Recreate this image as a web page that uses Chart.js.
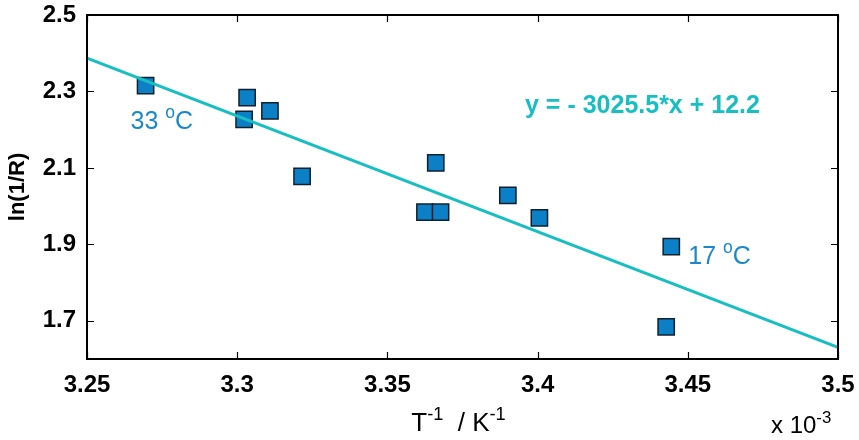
<!DOCTYPE html>
<html>
<head>
<meta charset="utf-8">
<script src="https://cdn.jsdelivr.net/npm/chart.js@4.4.0/dist/chart.umd.min.js"></script>
<style>
  html, body { margin: 0; padding: 0; background: #fff; }
  #wrap { width: 859px; height: 440px; }
</style>
</head>
<body>
<div id="wrap"><canvas id="arrhenius" width="859" height="440"></canvas></div>
<script>
// inverse temperature (x 10^-3 K^-1) and ln(1/R) for each measurement
const invTemp = [3.2695, 3.3033, 3.3023, 3.3109, 3.3216, 3.3661, 3.3625, 3.3677, 3.3901, 3.4006, 3.4445, 3.4428];
const lnInvR  = [2.315, 2.284, 2.227, 2.249, 2.078, 2.113, 1.984, 1.984, 2.028, 1.969, 1.894, 1.684];

// linear fit: y = slope * x + intercept (x in K^-1)
const fitSlope = -3025.5;
const fitIntercept = 12.22;
const fitRange = [3.25, 3.5];

const yTicks = [1.7, 1.9, 2.1, 2.3, 2.5];
const xTicks = [3.25, 3.3, 3.35, 3.4, 3.45, 3.5];

const tempLabels = [
  { idx: 0, text: '33', dx: -15, dy: 43 },
  { idx: 10, text: '17', dx: 17, dy: 17 }
];

const points = invTemp.map((x, i) => ({ x: x, y: lnInvR[i] }));
const fitLine = fitRange.map(x => ({ x: x, y: fitSlope * x * 1e-3 + fitIntercept }));

const BLUE = '#0b80c6';
const CYAN = '#17bfc3';
const LABEL_BLUE = '#1a88cc';
const FONT = '"Liberation Sans", Arial, sans-serif';

// text with a raised part, e.g. T^-1
function supText(ctx, parts, x, y, size, weight, color) {
  ctx.fillStyle = color;
  ctx.textBaseline = 'alphabetic';
  ctx.textAlign = 'left';
  let cx = x;
  parts.forEach(p => {
    const s = p.sup ? size * 0.7 : size;
    ctx.font = weight + ' ' + s + 'px ' + FONT;
    ctx.fillText(p.t, cx, p.sup ? y - size * 0.42 : y);
    cx += ctx.measureText(p.t).width;
  });
  return cx - x;
}
function measureSup(ctx, parts, size, weight) {
  let w = 0;
  parts.forEach(p => {
    const s = p.sup ? size * 0.7 : size;
    ctx.font = weight + ' ' + s + 'px ' + FONT;
    w += ctx.measureText(p.t).width;
  });
  return w;
}

const framePlugin = {
  id: 'frame',
  afterDatasetsDraw(chart) {
    const { ctx, chartArea: a, scales } = chart;
    ctx.save();
    // box with inward ticks on all four sides
    ctx.strokeStyle = '#000';
    ctx.lineWidth = 2;
    ctx.strokeRect(a.left, a.top, a.right - a.left, a.bottom - a.top);
    ctx.lineWidth = 1.2;
    const tl = 7;
    ctx.beginPath();
    xTicks.forEach(v => {
      const px = Math.round(scales.x.getPixelForValue(v)) + 0.5;
      ctx.moveTo(px, a.bottom); ctx.lineTo(px, a.bottom - tl);
      ctx.moveTo(px, a.top); ctx.lineTo(px, a.top + tl);
    });
    yTicks.forEach(v => {
      const py = Math.round(scales.y.getPixelForValue(v)) + 0.5;
      ctx.moveTo(a.left, py); ctx.lineTo(a.left + tl, py);
      ctx.moveTo(a.right, py); ctx.lineTo(a.right - tl, py);
    });
    ctx.stroke();

    // temperature labels next to the end points
    tempLabels.forEach(l => {
      const px = scales.x.getPixelForValue(invTemp[l.idx]) + l.dx;
      const py = scales.y.getPixelForValue(lnInvR[l.idx]) + l.dy;
      supText(ctx, [{ t: l.text + ' ' }, { t: 'o', sup: true }, { t: 'C' }], px, py, 25, 'normal', LABEL_BLUE);
    });

    // fit equation
    ctx.font = 'bold 25px ' + FONT;
    ctx.fillStyle = CYAN;
    ctx.textAlign = 'left';
    ctx.textBaseline = 'alphabetic';
    const eq = 'y = - ' + Math.abs(fitSlope).toFixed(1) + '*x + ' + fitIntercept.toFixed(1);
    ctx.fillText(eq, 525, 113);

    // axis titles
    const xt = [{ t: 'T' }, { t: '-1', sup: true }, { t: '  / K' }, { t: '-1', sup: true }];
    const w = measureSup(ctx, xt, 26, 'normal');
    supText(ctx, xt, (a.left + a.right) / 2 - w / 2 - 4, 431, 26, 'normal', '#000');
    supText(ctx, [{ t: 'x 10' }, { t: '-3', sup: true }], 771, 433, 24, 'normal', '#000');

    ctx.translate(24, (a.top + a.bottom) / 2);
    ctx.rotate(-Math.PI / 2);
    ctx.font = 'bold 22px ' + FONT;
    ctx.fillStyle = '#000';
    ctx.textAlign = 'center';
    ctx.fillText('ln(1/R)', 0, 0);
    ctx.restore();
  }
};

new Chart(document.getElementById('arrhenius'), {
  type: 'scatter',
  data: {
    datasets: [
      {
        type: 'line',
        data: fitLine,
        borderColor: CYAN,
        borderWidth: 3,
        pointRadius: 0,
        fill: false,
        order: 0
      },
      {
        data: points,
        pointStyle: 'rect',
        pointRadius: 11.5,
        pointHoverRadius: 11.5,
        backgroundColor: BLUE,
        borderColor: '#10202e',
        borderWidth: 1.5,
        order: 1
      }
    ]
  },
  options: {
    responsive: false,
    animation: false,
    layout: { padding: { left: 0, top: 15, right: 21, bottom: 0 } },
    plugins: { legend: { display: false }, tooltip: { enabled: false } },
    scales: {
      x: {
        type: 'linear',
        min: 3.25,
        max: 3.5,
        afterBuildTicks: s => { s.ticks = xTicks.map(v => ({ value: v })); },
        afterFit: s => { s.height = 81; s.paddingLeft = 0; s.paddingRight = 0; },
        grid: { display: false, drawTicks: false },
        border: { display: false },
        ticks: {
          padding: 12,
          color: '#000',
          font: { family: FONT, size: 24, weight: 'bold' },
          callback: v => String(+v.toFixed(2))
        }
      },
      y: {
        min: 1.6,
        max: 2.5,
        afterBuildTicks: s => { s.ticks = yTicks.map(v => ({ value: v })); },
        afterFit: s => { s.width = 87; s.paddingTop = 0; s.paddingBottom = 0; },
        grid: { display: false, drawTicks: false },
        border: { display: false },
        ticks: {
          padding: 11,
          color: '#000',
          font: { family: FONT, size: 24, weight: 'bold' },
          callback: v => v.toFixed(1)
        }
      }
    }
  },
  plugins: [framePlugin]
});
</script>
</body>
</html>
